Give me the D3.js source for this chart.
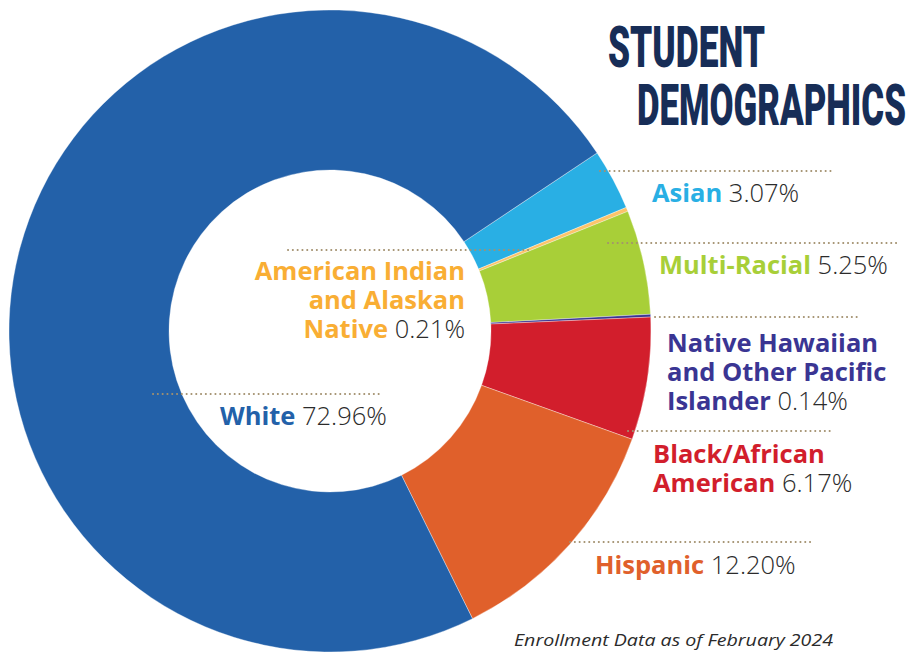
<!DOCTYPE html>
<html>
<head>
<meta charset="utf-8">
<script src="https://cdn.jsdelivr.net/npm/d3@7"></script>
<style>
  body { margin: 0; background: #fff; }
  svg { display: block; }
</style>
</head>
<body>
<svg id="chart" width="909" height="652"></svg>
<script>
const svg = d3.select("#chart");

// data
const groups = ["Asian", "American Indian and Alaskan Native", "Multi-Racial",
    "Native Hawaiian and Other Pacific Islander", "Black/African American", "Hispanic", "White"];
const shares = [3.07, 0.21, 5.25, 0.14, 6.17, 12.20, 72.96];
const sliceColors = ["#29afe4", "#fcc46a", "#a8cf38", "#3a3593", "#d21e2c", "#e0602b", "#2361a9"];
const labelColors = ["#29afe4", "#f9ae34", "#a8cf38", "#3a3593", "#d21e2c", "#e0602b", "#2361a9"];
// label lines (name split on lines, last line carries the value)
const labelLines = [
    ["Asian"],
    ["American Indian", "and Alaskan", "Native"],
    ["Multi-Racial"],
    ["Native Hawaiian", "and Other Pacific", "Islander"],
    ["Black/African", "American"],
    ["Hispanic"],
    ["White"]
];

const cx = 330, cy = 331;
const outerR = 321, innerR = 161;
const start = 56.3 * Math.PI / 180;

const pie = d3.pie().sort(null).value(d => d)
    .startAngle(start).endAngle(start + 2 * Math.PI);
const arc = d3.arc().innerRadius(innerR).outerRadius(outerR);

const donut = svg.append("g").attr("transform", `translate(${cx},${cy})`);
donut.selectAll("path").data(pie(shares))
    .join("path")
    .attr("d", arc)
    .attr("fill", (d, i) => sliceColors[i])
    .attr("stroke", "#ffffff")
    .attr("stroke-width", 0.5)
    .attr("stroke-opacity", 0.7);

// label placement: text x, first baseline, anchor, dotted line x1, x2, y
const labelPos = [
    { x: 652, y: 202, anchor: "start", lx1: 600, lx2: 833, ly: 171 },
    { x: 465, y: 280, anchor: "end", lx1: 288, lx2: 530, ly: 250 },
    { x: 659, y: 274, anchor: "start", lx1: 608, lx2: 898, ly: 243 },
    { x: 667, y: 352, anchor: "start", lx1: 655, lx2: 858, ly: 317 },
    { x: 653, y: 463, anchor: "start", lx1: 628, lx2: 830, ly: 431 },
    { x: 595, y: 574, anchor: "start", lx1: 570, lx2: 813, ly: 542 },
    { x: 220, y: 425, anchor: "start", lx1: 153, lx2: 380, ly: 394 }
];
const lineGap = 29;

const labels = svg.append("g").attr("font-family", "'Open Sans', Lato, sans-serif");
groups.forEach((g, i) => {
    const p = labelPos[i];
    labels.append("line")
        .attr("x1", p.lx1).attr("x2", p.lx2)
        .attr("y1", p.ly).attr("y2", p.ly)
        .attr("stroke", "#a3916f")
        .attr("stroke-width", 2)
        .attr("stroke-linecap", "round")
        .attr("stroke-dasharray", "0.1 4.7");

    const t = labels.append("text")
        .attr("x", p.x).attr("y", p.y)
        .attr("text-anchor", p.anchor)
        .attr("font-size", 25.5);
    const lines = labelLines[i];
    lines.forEach((ln, j) => {
        t.append("tspan")
            .attr("x", p.x)
            .attr("dy", j === 0 ? 0 : lineGap)
            .attr("font-weight", 700)
            .attr("fill", labelColors[i])
            .text(ln);
        if (j === lines.length - 1) {
            t.append("tspan")
                .attr("font-weight", 300)
                .attr("fill", "#2b2b2b")
                .text(" " + d3.format(".2f")(shares[i]) + "%");
        }
    });
});

// title
const title = svg.append("g")
    .attr("font-family", "Roboto, sans-serif")
    .attr("font-weight", 900)
    .attr("fill", "#172d57")
    .attr("font-size", 57);
title.append("text").attr("x", 608).attr("y", 67)
    .attr("textLength", 157).attr("lengthAdjust", "spacingAndGlyphs")
    .text("STUDENT");
title.append("text").attr("x", 637).attr("y", 125)
    .attr("textLength", 269).attr("lengthAdjust", "spacingAndGlyphs")
    .text("DEMOGRAPHICS");

// footnote
svg.append("text")
    .attr("x", 514).attr("y", 646)
    .attr("font-family", "'Open Sans', sans-serif")
    .attr("font-style", "italic")
    .attr("font-size", 16)
    .attr("fill", "#2b2b2b")
    .attr("textLength", 319).attr("lengthAdjust", "spacingAndGlyphs")
    .text("Enrollment Data as of February 2024");
</script>
</body>
</html>
